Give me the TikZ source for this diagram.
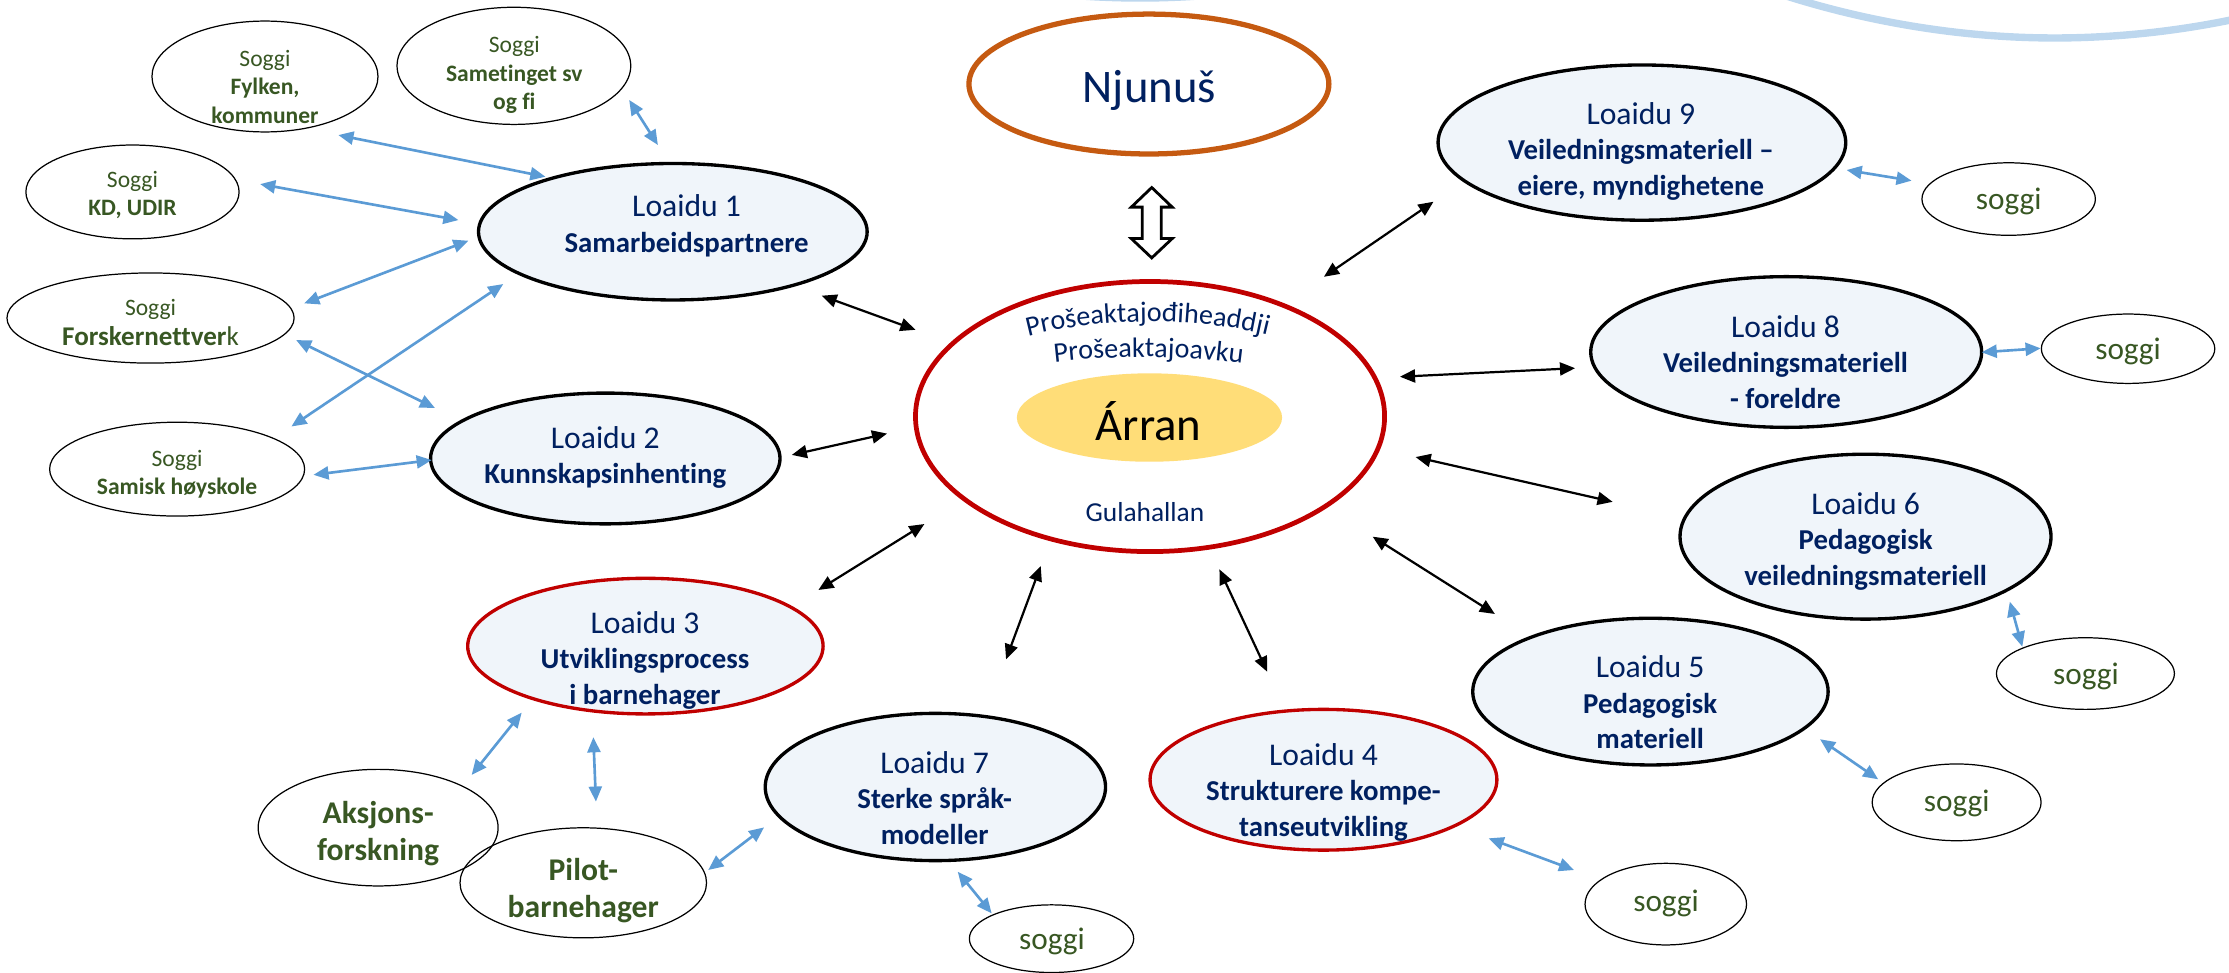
\documentclass[tikz,border=0pt]{standalone}
\usepackage{fontspec}
\setmainfont{Carlito}[Ligatures=NoCommon]
\usetikzlibrary{shapes.geometric,arrows.meta,decorations.text}
\definecolor{navy}{HTML}{002060}
\definecolor{sgreen}{HTML}{385723}
\definecolor{ablue}{HTML}{5B9BD5}
\definecolor{lred}{HTML}{C00000}
\definecolor{njorange}{HTML}{C55A11}
\definecolor{lfill}{HTML}{F0F5FA}
\definecolor{arryellow}{HTML}{FFDD78}
\definecolor{arcblue}{HTML}{BDD7EE}
\newcommand{\pxu}{0.014216cm}
\newcommand{\ld}[1]{{\mdseries\fontsize{9}{10.1}\selectfont #1}}
\tikzset{
  es/.style 2 args={ellipse, inner sep=0pt, outer sep=0pt, minimum width=2*#1*\pxu, minimum height=2*#2*\pxu},
  lblack/.style={draw=black, line width=0.95pt, fill=lfill},
  lredbox/.style={draw=lred, line width=0.95pt, fill=lfill},
  sbox/.style={draw=black, line width=0.35pt},
  lbl/.style={text=navy, align=center, inner sep=0pt, font=\fontsize{8.2}{10.1}\selectfont\bfseries},
  sgl/.style={text=sgreen, align=center, inner sep=0pt, font=\fontsize{6.7}{8.1}\selectfont},
  sgb/.style={text=sgreen, align=center, inner sep=0pt, font=\fontsize{9}{10.4}\selectfont\bfseries},
  sgr/.style={text=sgreen, align=center, inner sep=0pt, font=\fontsize{8.9}{10}\selectfont},
  blk/.style={draw=black, line width=0.63pt, {Triangle[length=4.3pt,width=3.7pt]}-{Triangle[length=4.3pt,width=3.7pt]}},
  blu/.style={draw=ablue, line width=0.75pt, {Triangle[length=4.3pt,width=3.7pt]}-{Triangle[length=4.3pt,width=3.7pt]}},
  arcline/.style={draw=arcblue, line width=2.1pt},
}
\begin{document}
\begin{tikzpicture}[x=0.014216cm, y=-0.014216cm]
\useasboundingbox (0,0) rectangle (1568,684.4);

% decorative arcs at the top edge
\draw[arcline] (1240,-8.3) parabola bend (1445.5,26.7) (1600,6.9);
\draw[arcline] (702,-9.7) parabola bend (802,-1.4) (902,-9.7);

% centre
\node[es={165}{95}, draw=lred, line width=1.35pt, fill=white] (core) at (809,293) {};
\node[es={93.3}{31.1}, fill=arryellow] (arr) at (808.6,293.7) {};
\node[es={126.6}{49.2}, draw=njorange, line width=1.5pt, fill=white] (nj) at (808.2,59.1) {};

% work packages
\node[es={136.7}{48}, lblack] (l1) at (473.3,163) {};
\node[es={122.9}{46}, lblack] (l2) at (425.8,322.5) {};
\node[es={125}{47.7}, lredbox] (l3) at (454,454.5) {};
\node[es={119.7}{51.8}, lblack] (l7) at (658,553.6) {};
\node[es={122}{49.5}, lredbox] (l4) at (931,548.5) {};
\node[es={125}{51.6}, lblack] (l5) at (1161,486.5) {};
\node[es={130.5}{58}, lblack] (l6) at (1312.3,377.5) {};
\node[es={137.5}{53}, lblack] (l8) at (1256.5,247.6) {};
\node[es={143.4}{54.6}, lblack] (l9) at (1155,100.3) {};

% partner ellipses
\node[es={79.5}{39}, sbox] (sfyl) at (186.4,53.8) {};
\node[es={82.2}{41.2}, sbox] (ssam) at (361.5,46.3) {};
\node[es={75}{33}, sbox] (skd) at (93.2,135) {};
\node[es={101}{31.7}, sbox] (sfor) at (105.9,223.7) {};
\node[es={89.7}{33}, sbox] (shoy) at (124.6,330) {};
\node[es={84.4}{41}, sbox] (saks) at (266,582.2) {};
\node[es={86.7}{38.7}, sbox] (spil) at (410.3,621) {};
\node[es={57.8}{23.8}, sbox] (s7) at (739.7,660.3) {};
\node[es={56.8}{28.7}, sbox] (s4) at (1171.8,636) {};
\node[es={59.4}{27}, sbox] (s5) at (1376.4,564.4) {};
\node[es={62.6}{25.2}, sbox] (s6) at (1467,473.8) {};
\node[es={61}{24.4}, sbox] (s8) at (1497,245.3) {};
\node[es={61}{25.5}, sbox] (s9) at (1413,140) {};

% hollow double arrow between Njunus and centre
\draw[line width=0.8pt, fill=white, line join=miter]
  (810.2,131.9) -- (824.6,145.7) -- (816.9,145.7) -- (816.9,167.8) -- (824.6,167.8)
  -- (810.2,181.4) -- (795.8,167.8) -- (803.5,167.8) -- (803.5,145.7) -- (795.8,145.7) -- cycle;

% arrow end points
\coordinate (k1a) at (578,208);     \coordinate (k1b) at (644,232);
\coordinate (k2a) at (557,320);     \coordinate (k2b) at (624,305);
\coordinate (k3a) at (575.7,415);   \coordinate (k3b) at (650.3,368.6);
\coordinate (k7a) at (707.7,463.8); \coordinate (k7b) at (732.1,398.1);
\coordinate (k4a) at (891.4,472.5); \coordinate (k4b) at (857.8,400.5);
\coordinate (k5a) at (1051.6,431.9);\coordinate (k5b) at (965.6,377.5);
\coordinate (k6a) at (1134.4,353);  \coordinate (k6b) at (995.8,321.5);
\coordinate (k8a) at (1108,259);    \coordinate (k8b) at (984.8,265);
\coordinate (k9a) at (1008.4,141.9);\coordinate (k9b) at (931.3,194.7);

\foreach \k in {1,2,3,7,4,5,6,8,9} {\draw[blk] (k\k a) -- (k\k b);}

\coordinate (b1a) at (238,95);       \coordinate (b1b) at (383.7,124.3);
\coordinate (b2a) at (442.6,70.3);   \coordinate (b2b) at (462.8,102);
\coordinate (b3a) at (183,129.5);    \coordinate (b3b) at (322.5,154.8);
\coordinate (b4a) at (214,213.4);    \coordinate (b4b) at (329.5,169.3);
\coordinate (b5a) at (205,300);      \coordinate (b5b) at (354,199.8);
\coordinate (b6a) at (208.3,239.2);  \coordinate (b6b) at (306,287);
\coordinate (b7a) at (220.5,334);    \coordinate (b7b) at (303.7,323.6);
\coordinate (b8a) at (367,501.3);    \coordinate (b8b) at (331.8,545.1);
\coordinate (b9a) at (417.4,518.6);  \coordinate (b9b) at (419.2,563.9);
\coordinate (b10a) at (498.2,612);   \coordinate (b10b) at (537.5,582);
\coordinate (b11a) at (673.7,613.2); \coordinate (b11b) at (697.6,642.5);
\coordinate (b12a) at (1047.2,589.7);\coordinate (b12b) at (1107.3,612);
\coordinate (b13a) at (1280.3,520);  \coordinate (b13b) at (1321.2,548.2);
\coordinate (b14a) at (1413.8,423.2);\coordinate (b14b) at (1422.6,454.9);
\coordinate (b15a) at (1394,247.8);  \coordinate (b15b) at (1435.5,245);
\coordinate (b16a) at (1299,119.6);  \coordinate (b16b) at (1344.7,127.1);

\foreach \k in {1,...,16} {\draw[blu] (b\k a) -- (b\k b);}

% centre texts
\node[text=navy, inner sep=0pt, font=\fontsize{13.3}{15}\selectfont] (njt) at (808.5,63.3) {Njunuš};
\node[anchor=base, inner sep=0pt, font=\fontsize{13.3}{15}\selectfont] (arrt) at (807.9,309.6) {Árran};
\node[anchor=base, text=navy, inner sep=0pt, font=\fontsize{7.8}{9}\selectfont] (gula) at (805.4,367) {Gulahallan};
\path[decorate, decoration={text along path, text align=center,
  text={|\fontsize{8}{9}\selectfont\color{navy}|Prošeaktajođiheaddji}}]
  (711,240) .. controls (768,222) and (847,222) .. (904,239);
\path[decorate, decoration={text along path, text align=center,
  text={|\fontsize{8}{9}\selectfont\color{navy}|Prošeaktajoavku}}]
  (736,255.5) .. controls (785,249.5) and (831,249.5) .. (880,256.5);

% work package texts
\node[lbl] (t1) at (483,158.9) {\ld{Loaidu 1}\\Samarbeidspartnere};
\node[lbl] (t2) at (425.8,321.8) {\ld{Loaidu 2}\\Kunnskapsinhenting};
\node[lbl] (t3) at (453.7,464.3) {\ld{Loaidu 3}\\Utviklingsprocess\\i barnehager};
\node[lbl] (t7) at (657.5,561.3) {\ld{Loaidu 7}\\Sterke språk-\\modeller};
\node[lbl] (t4) at (931,557.3) {\ld{Loaidu 4}\\Strukturere kompe-\\tanseutvikling};
\node[lbl] (t5) at (1160.8,494.1) {\ld{Loaidu 5}\\Pedagogisk\\materiell};
\node[lbl] (t6) at (1312.4,380.6) {\ld{Loaidu 6}\\Pedagogisk\\veiledningsmateriell};
\node[lbl] (t8) at (1256,254.6) {\ld{Loaidu 8}\\Veiledningsmateriell\\- foreldre};
\node[lbl] (t9) at (1154.3,106.3) {\ld{Loaidu 9}\\Veiledningsmateriell –\\eiere, myndighetene};

% partner texts
\node[sgl] (tfyl) at (186.4,61) {Soggi\\\textbf{Fylken,}\\\textbf{kommuner}};
\node[sgl] (tsam) at (361.8,52.8) {Soggi\\\textbf{Sametinget sv}\\\textbf{og fi}};
\node[sgl] (tkd) at (93.2,137.3) {Soggi\\\textbf{KD, UDIR}};
\node[sgl, font=\fontsize{7.7}{8.4}\selectfont] (tfor) at (105.9,227) {\fontsize{6.7}{8}\selectfont Soggi\\\textbf{Forskernettver}k};
\node[sgl] (thoy) at (124.6,333.5) {Soggi\\\textbf{Samisk høyskole}};
\node[sgb] (taks) at (266,586.2) {Aksjons-\\forskning};
\node[sgb] (tpil) at (410.3,626.4) {Pilot-\\barnehager};
\node[sgr] (ts7) at (740,662.4) {soggi};
\node[sgr] (ts4) at (1172,635.4) {soggi};
\node[sgr] (ts5) at (1376.4,565) {soggi};
\node[sgr] (ts6) at (1467.3,476) {soggi};
\node[sgr] (ts8) at (1497,247) {soggi};
\node[sgr] (ts9) at (1413,141.9) {soggi};
\end{tikzpicture}
\end{document}
